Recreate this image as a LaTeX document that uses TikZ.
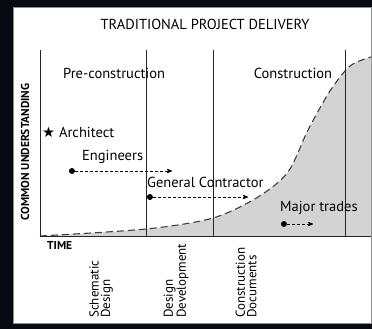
\documentclass[tikz,border=0pt]{standalone}
\usepackage{fontspec}
\setmainfont{PT Sans}
\newfontfamily\symfont{DejaVu Sans}
\usepackage{tikz}
\usetikzlibrary{arrows,positioning}
\definecolor{bgdark}{HTML}{060A12}
\definecolor{fillgrey}{HTML}{D3D3D3}
\definecolor{edgegrey}{HTML}{8C8C8C}
\tikzset{
    %Define standard arrow tip
    >=stealth',
    %Define style for phase labels
    phase/.style={
        font=\fontsize{14.5}{15}\selectfont,
        inner sep=0pt},
    % Define style for team labels
    team/.style={
        font=\fontsize{14.5}{15}\selectfont,
        inner sep=0pt,
        anchor=west},
    % Define style for stage labels under the axis
    stage/.style={
        rotate=90,
        anchor=west,
        align=left,
        inner sep=0pt,
        font=\fontsize{13}{11.5}\selectfont},
    % Define style for axis labels
    axislabel/.style={
        font=\bfseries\fontsize{11.5}{12}\selectfont,
        inner sep=0pt},
    % Define arrow style
    pil/.style={
        *->,
        dash pattern=on 3pt off 2pt,
        line width=0.8pt},
    divider/.style={
        line width=0.6pt,
        draw=black!85}
}
\begin{document}
\begin{tikzpicture}[x=1pt,y=-1pt]
  % background and white panel
  \fill[bgdark] (0,0) rectangle (372,329);
  \filldraw[fill=white, draw=edgegrey] (13.5,7.5) rectangle (371.5,323);
  \useasboundingbox (0,0) rectangle (372,329);
  % grey area under the curve
  \fill[fillgrey] plot[smooth] coordinates {(40,236) (146,229) (213,218) (258,197)
      (288,172) (308,130) (330,91) (350,66) (371,57)}
      -- (371,236) -- cycle;
  \draw[dash pattern=on 7pt off 4pt, line width=1.1pt, black!75] plot[smooth] coordinates {(40,236) (146,229)
      (213,218) (258,197) (288,172) (308,130) (330,91) (350,66) (371,57)};
  % axes and phase dividers
  \draw[divider] (40,50) -- (40,236) -- (371,236);
  \foreach \x in {146,213,345}
    \draw[divider] (\x,50) -- (\x,236);
  %nodes
  \node[phase] (title) at (205,24) {TRADITIONAL PROJECT DELIVERY};
  \node[phase, anchor=west] (precon) at (63,73) {Pre-construction};
  \node[phase] (con) at (293,73) {Construction};
  \node[team] (architect) at (42,132) {{\symfont ★} Architect};
  \node[team] (engineers) at (82,157) {Engineers};
  \node[team] (gc) at (147,182) {General Contractor};
  \node[team] (trades) at (280,208) {Major trades};
  \node[axislabel, rotate=90] (understanding) at (25,152) {COMMON UNDERSTANDING};
  \node[axislabel, anchor=west] (time) at (47,245) {TIME};
  \node[stage] (schematic) at (101,318) {Schematic\\Design};
  \node[stage] (develop) at (176,318) {Design\\Development};
  \node[stage] (documents) at (246,318) {Construction\\Documents};
  % arrow ends
  \coordinate (eng start) at (69,171);
  \coordinate (eng end) at (172,171);
  \coordinate (gc start) at (147,197);
  \coordinate (gc end) at (248,197);
  \coordinate (mt start) at (281,224);
  \coordinate (mt end) at (313,224);
  \draw[pil] (eng start) -- (eng end);
  \draw[pil] (gc start) -- (gc end);
  \draw[pil] (mt start) -- (mt end);
\end{tikzpicture}
\end{document}
